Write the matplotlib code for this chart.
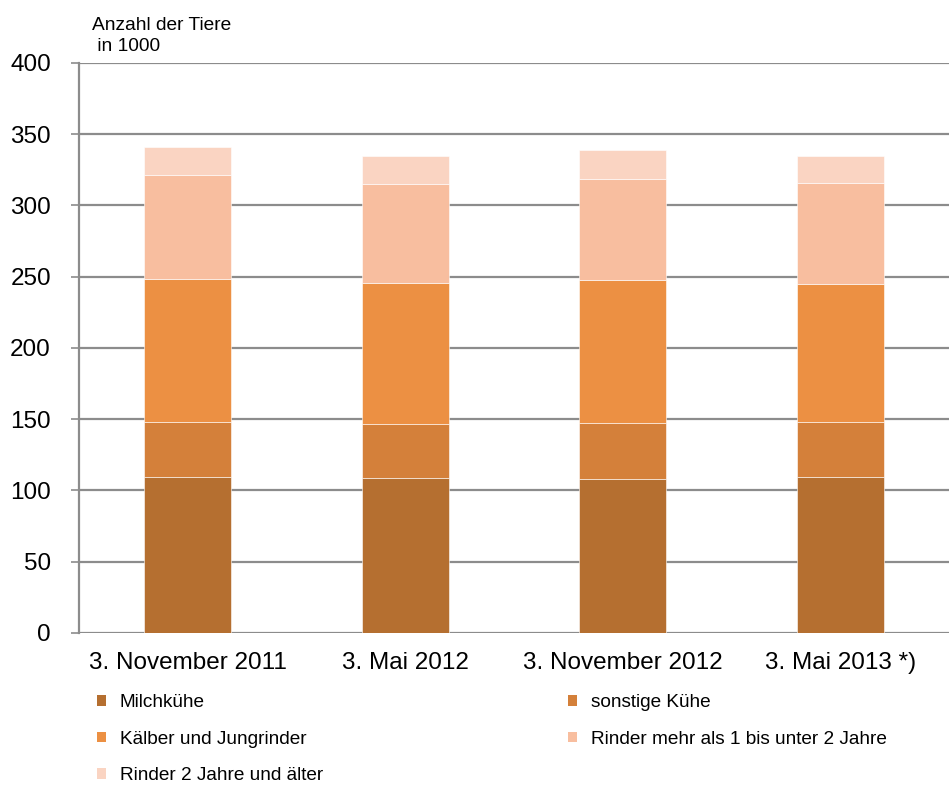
import matplotlib

matplotlib.use("Agg")
import matplotlib.pyplot as plt
import numpy as np
from matplotlib.patches import Patch

plt.rcParams["font.family"] = ["Liberation Sans", "DejaVu Sans"]

dates = ["3. November 2011", "3. Mai 2012", "3. November 2012", "3. Mai 2013 *)"]
milchkuehe = [109, 108.3, 107.8, 109.2]
sonstige_kuehe = [39, 38.4, 39.4, 38.6]
kaelber = [100, 98.7, 100.1, 97.1]
rinder_1_2 = [73, 69.6, 71.3, 71.1]
rinder_2_plus = [20, 20, 20.4, 18.7]

series = [
    ("Milchkühe", milchkuehe, "#B56F30"),
    ("sonstige Kühe", sonstige_kuehe, "#D4803A"),
    ("Kälber und Jungrinder", kaelber, "#EC9043"),
    ("Rinder mehr als 1 bis unter 2 Jahre", rinder_1_2, "#F8BE9F"),
    ("Rinder 2 Jahre und älter", rinder_2_plus, "#FAD4C2"),
]


def main() -> None:
    fig = plt.figure(figsize=(9.49, 7.87), dpi=100)
    ax = fig.add_axes([0.083, 0.196, 0.917, 0.724])

    x = np.arange(len(dates))
    bottom = np.zeros(len(dates))
    for label, values, color in series:
        ax.bar(x, values, width=0.4, bottom=bottom, color=color,
               edgecolor="white", linewidth=0.4, zorder=3, label=label)
        bottom += np.array(values)

    ax.set_xlim(-0.5, 3.5)
    ax.set_ylim(0, 400)
    ax.set_yticks(range(0, 401, 50))
    ax.yaxis.grid(True, color="#8C8C8C", linewidth=1.6, zorder=0)
    ax.set_axisbelow(True)
    ax.set_xticks(x)
    ax.set_xticklabels(dates, fontsize=17.5)
    ax.tick_params(axis="x", length=0, pad=14)
    ax.tick_params(axis="y", labelsize=17.5, length=6, width=1.2, color="#8C8C8C", pad=14)
    for side in ("top", "right"):
        ax.spines[side].set_visible(False)
    ax.spines["left"].set_color("#8C8C8C")
    ax.spines["left"].set_linewidth(1.6)
    ax.spines["bottom"].set_visible(False)

    fig.text(0.097, 0.979, "Anzahl der Tiere\n in 1000", fontsize=13.8,
             va="top", ha="left", linespacing=1.31)

    # two columns, filled row by row like the original
    handles = [Patch(facecolor=c, edgecolor="none") for _, _, c in series]
    labels = [s[0] for s in series]
    order = [0, 2, 4, 1, 3]
    fig.legend([handles[i] for i in order], [labels[i] for i in order],
               ncol=2, loc="upper left", bbox_to_anchor=(0.102, 0.118),
               frameon=False, fontsize=13.7, handlelength=0.47,
               handleheight=0.47, handletextpad=0.74, columnspacing=12.87,
               labelspacing=1.03, borderpad=0, borderaxespad=0)

    fig.savefig("out.png", dpi=100)
    plt.close(fig)


if __name__ == "__main__":
    main()
